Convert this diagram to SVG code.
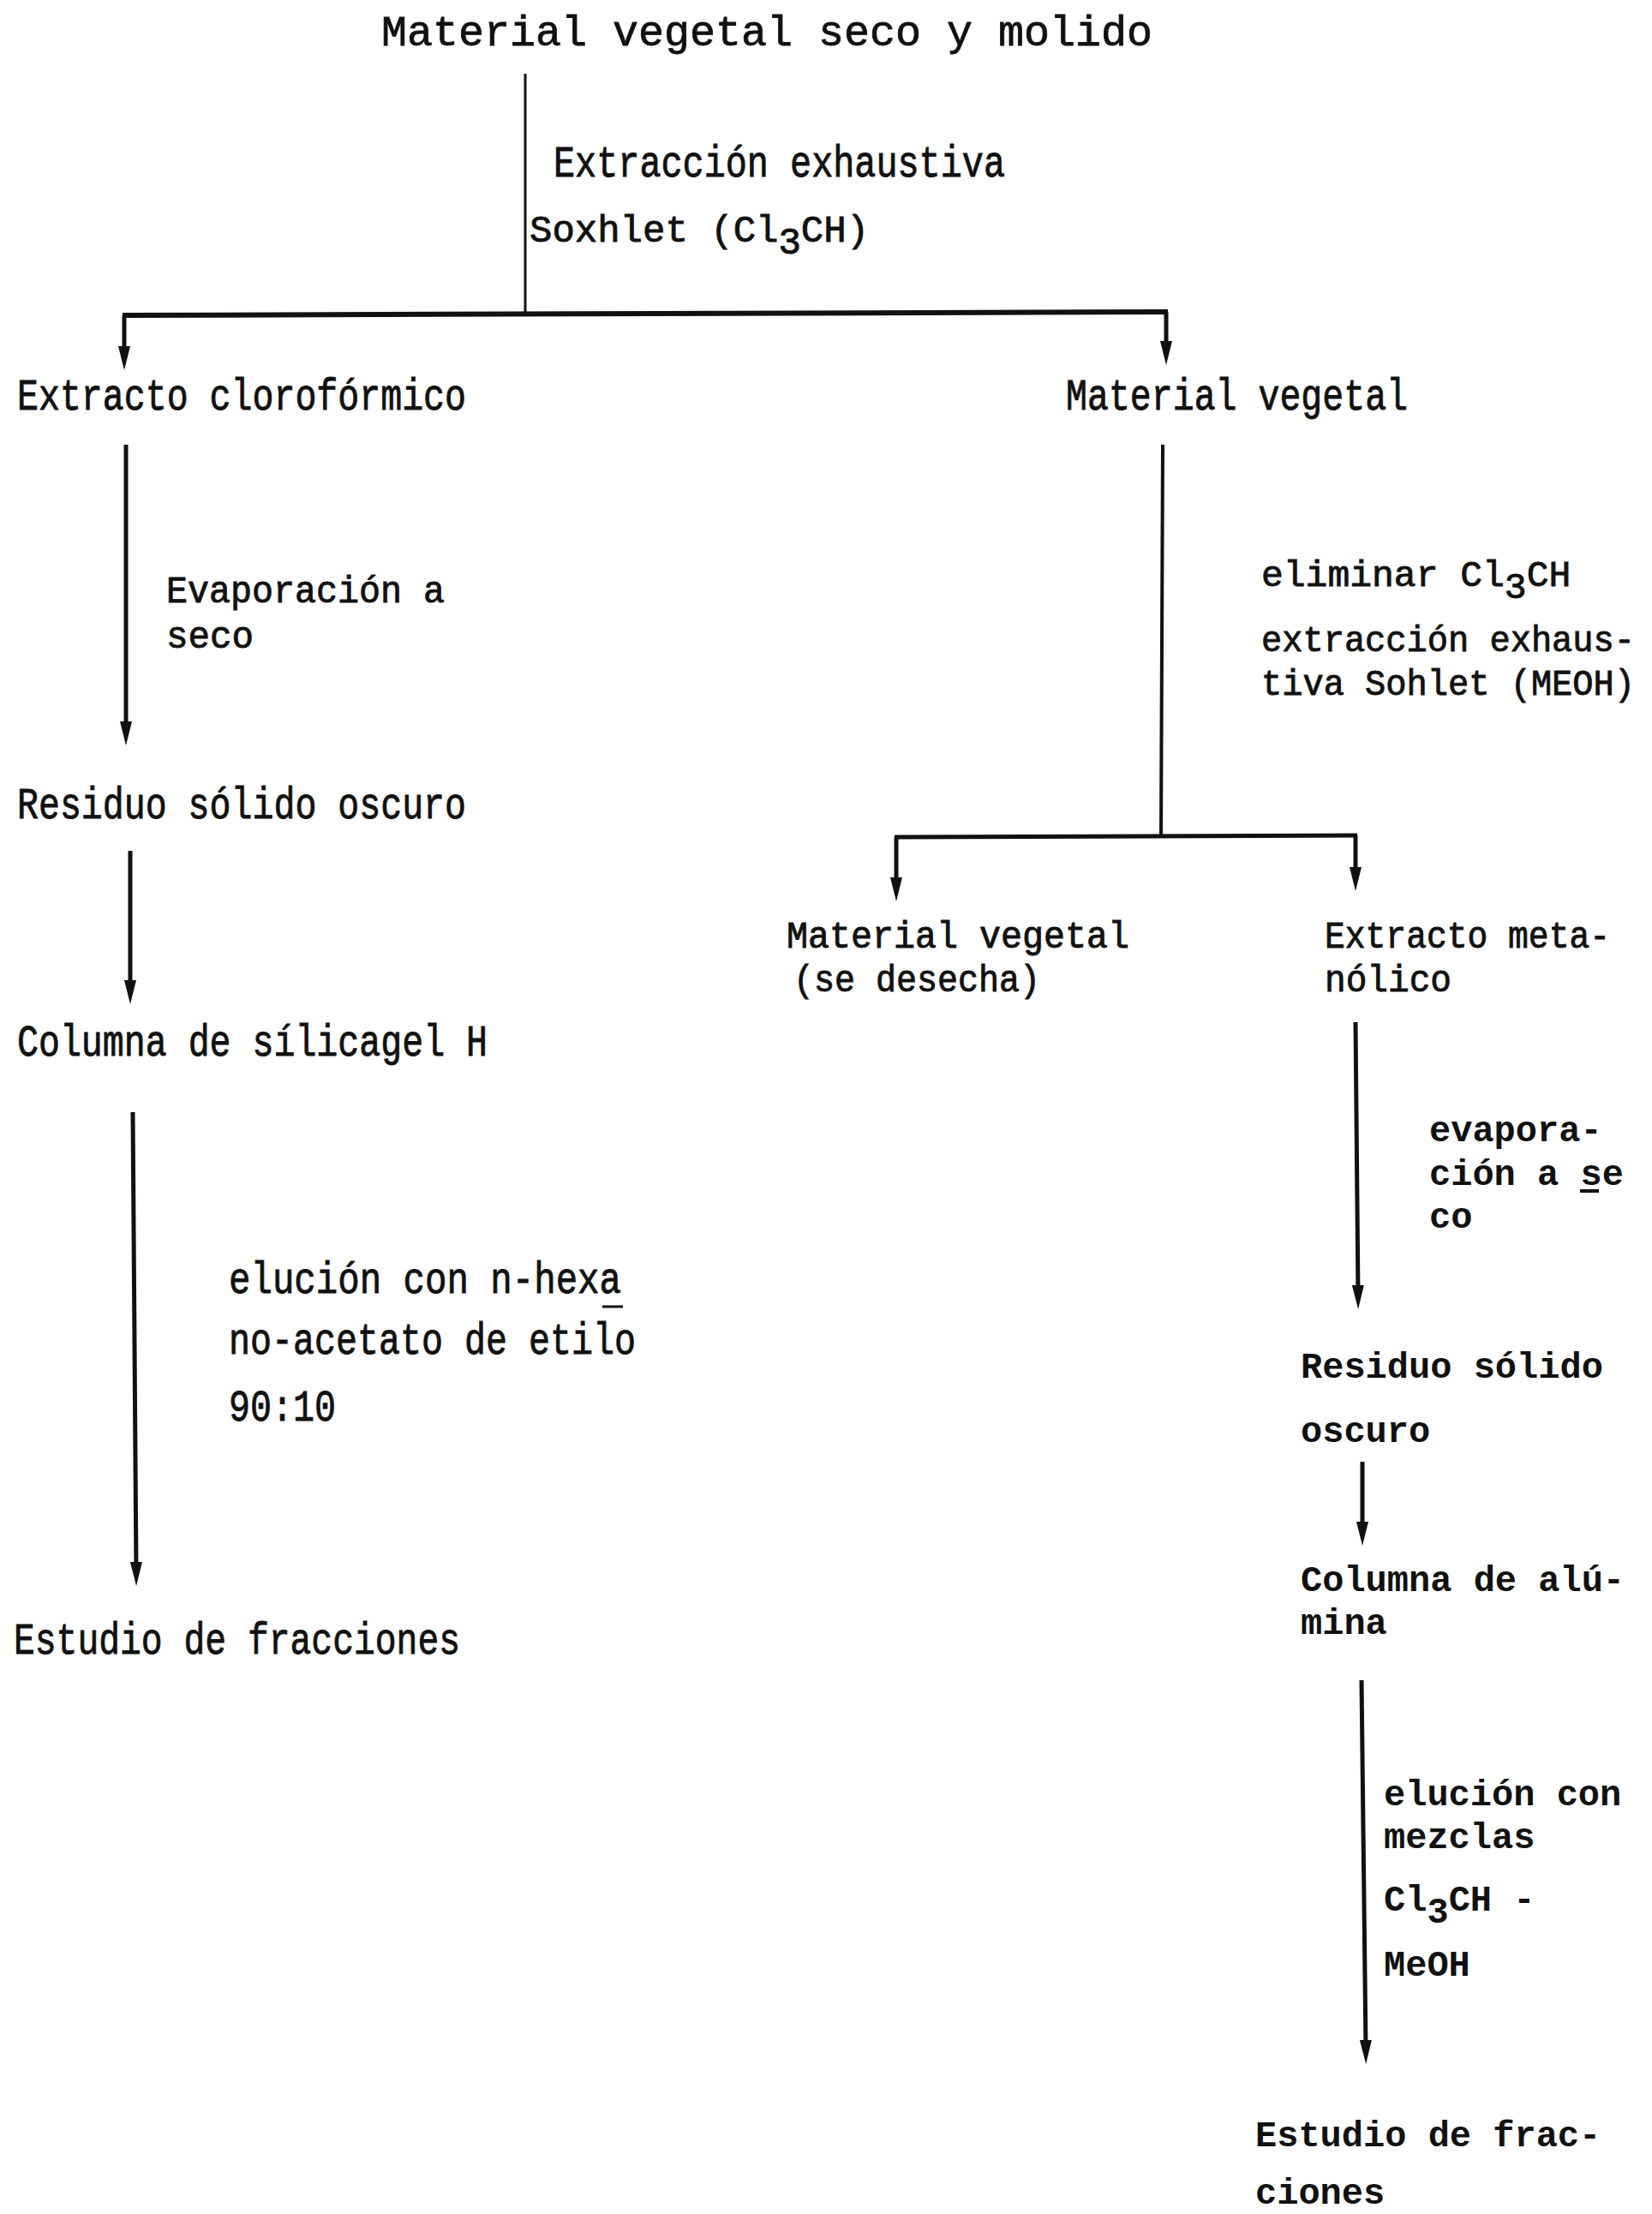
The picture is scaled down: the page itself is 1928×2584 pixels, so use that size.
<svg xmlns="http://www.w3.org/2000/svg" width="1928" height="2584" viewBox="0 0 1928 2584">
<style>
text{fill:#111}
.ti{font-family:"Liberation Mono",monospace;font-size:50px;stroke:#111;stroke-width:0.8}
.c{font-family:"Liberation Mono",monospace;font-size:52px;stroke:#111;stroke-width:0.9}
.c2{font-family:"Liberation Mono",monospace;font-size:44px;stroke:#111;stroke-width:0.9}
.b{font-family:"Liberation Mono",monospace;font-size:42px;font-weight:bold}
.ln{stroke:#111;fill:none;stroke-linecap:butt}
.ar{stroke:#111;fill:none;stroke-width:5;marker-end:url(#ah)}
</style>
<defs>
<marker id="ah" markerUnits="userSpaceOnUse" markerWidth="32" markerHeight="18" refX="13" refY="8" orient="auto" overflow="visible">
<path d="M0,1 L28,8 L0,15 Z" fill="#111"/>
</marker>
</defs>
<rect width="1928" height="2584" fill="#fff"/>

<g id="connectors">
<line class="ln" x1="613" y1="86" x2="613" y2="368" stroke-width="3"/>
<line class="ln" x1="143" y1="368" x2="1363" y2="364" stroke-width="6"/>
<line class="ar" x1="145" y1="368" x2="145" y2="417"/>
<line class="ar" x1="1361" y1="364" x2="1361" y2="411"/>
<line class="ar" x1="147" y1="519" x2="147" y2="855"/>
<line class="ar" x1="152" y1="993" x2="152" y2="1157"/>
<line class="ar" x1="155" y1="1298" x2="159" y2="1836"/>
<line class="ln" x1="1357" y1="519" x2="1355" y2="977" stroke-width="4"/>
<line class="ln" x1="1044" y1="977" x2="1584" y2="975" stroke-width="5"/>
<line class="ar" x1="1046" y1="977" x2="1046" y2="1037"/>
<line class="ar" x1="1582" y1="975" x2="1582" y2="1025"/>
<line class="ar" x1="1582" y1="1193" x2="1585" y2="1513"/>
<line class="ar" x1="1590" y1="1706" x2="1590" y2="1789"/>
<line class="ar" x1="1589" y1="1961" x2="1594" y2="2394"/>
<line class="ln" x1="703" y1="1525" x2="727" y2="1525" stroke-width="3"/>
<line class="ln" x1="1844" y1="1390" x2="1866" y2="1390" stroke-width="4"/>
</g>

<g id="n-material-seco"><text class="ti" x="445" y="53" textLength="900" lengthAdjust="spacingAndGlyphs">Material vegetal seco y molido</text></g>
<g id="l-extraccion-soxhlet">
<text class="c" x="646" y="206" textLength="527" lengthAdjust="spacingAndGlyphs">Extracción exhaustiva</text>
<text class="c" x="618" y="282" style="font-size:44px">Soxhlet (Cl<tspan dy="14">3</tspan><tspan dy="-14">CH)</tspan></text>
</g>
<g id="n-extracto-cloroformico"><text class="c" x="20" y="478" textLength="524" lengthAdjust="spacingAndGlyphs">Extracto clorofórmico</text></g>
<g id="n-material-vegetal"><text class="c" x="1244" y="478" textLength="399" lengthAdjust="spacingAndGlyphs">Material vegetal</text></g>
<g id="l-evaporacion">
<text class="c2" x="194" y="703" textLength="325" lengthAdjust="spacingAndGlyphs">Evaporación a</text>
<text class="c2" x="194" y="756" textLength="102" lengthAdjust="spacingAndGlyphs">seco</text>
</g>
<g id="n-residuo-1"><text class="c" x="20" y="955" textLength="524" lengthAdjust="spacingAndGlyphs">Residuo sólido oscuro</text></g>
<g id="n-columna-silica"><text class="c" x="20" y="1232" textLength="549" lengthAdjust="spacingAndGlyphs">Columna de sílicagel H</text></g>
<g id="l-elucion-hexano">
<text class="c" x="267" y="1509" textLength="458" lengthAdjust="spacingAndGlyphs">elución con n-hexa</text>
<text class="c" x="267" y="1580" textLength="475" lengthAdjust="spacingAndGlyphs">no-acetato de etilo</text>
<text class="c" x="267" y="1658" textLength="125" lengthAdjust="spacingAndGlyphs">90:10</text>
</g>
<g id="n-estudio-1"><text class="c" x="16" y="1930" textLength="521" lengthAdjust="spacingAndGlyphs">Estudio de fracciones</text></g>

<g id="l-eliminar">
<text class="c" x="1472" y="684" style="font-size:43px">eliminar Cl<tspan dy="14">3</tspan><tspan dy="-14">CH</tspan></text>
<text class="c2" x="1472" y="760" textLength="436" lengthAdjust="spacingAndGlyphs" style="font-size:42px">extracción exhaus-</text>
<text class="c2" x="1472" y="811" textLength="436" lengthAdjust="spacingAndGlyphs" style="font-size:42px">tiva Sohlet (MEOH)</text>
</g>
<g id="n-material-desecha">
<text class="c2" x="918" y="1106" textLength="400" lengthAdjust="spacingAndGlyphs">Material vegetal</text>
<text class="c2" x="926" y="1157" textLength="288" lengthAdjust="spacingAndGlyphs">(se desecha)</text>
</g>
<g id="n-extracto-metanolico">
<text class="c2" x="1546" y="1106" textLength="333" lengthAdjust="spacingAndGlyphs">Extracto meta-</text>
<text class="c2" x="1546" y="1157" textLength="148" lengthAdjust="spacingAndGlyphs">nólico</text>
</g>
<g id="l-evaporacion-2">
<text class="b" x="1668" y="1332">evapora-</text>
<text class="b" x="1668" y="1383">ción a se</text>
<text class="b" x="1668" y="1433">co</text>
</g>
<g id="n-residuo-2">
<text class="b" x="1518" y="1608">Residuo sólido</text>
<text class="b" x="1518" y="1683">oscuro</text>
</g>
<g id="n-columna-alumina">
<text class="b" x="1518" y="1857">Columna de alú-</text>
<text class="b" x="1518" y="1907">mina</text>
</g>
<g id="l-elucion-mezclas">
<text class="b" x="1615" y="2107">elución con</text>
<text class="b" x="1615" y="2157">mezclas</text>
<text class="b" x="1615" y="2230">Cl<tspan dy="14">3</tspan><tspan dy="-14">CH -</tspan></text>
<text class="b" x="1615" y="2306">MeOH</text>
</g>
<g id="n-estudio-2">
<text class="b" x="1465" y="2505">Estudio de frac-</text>
<text class="b" x="1465" y="2572">ciones</text>
</g>
</svg>
